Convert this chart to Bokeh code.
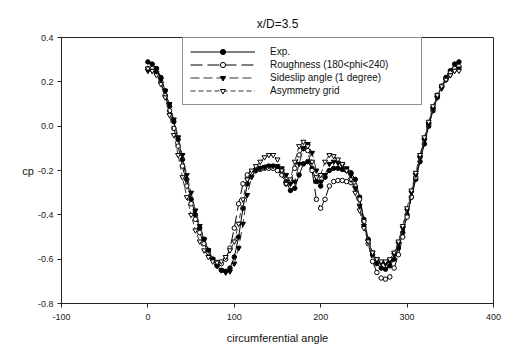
from bokeh.plotting import figure
from bokeh.models import Range1d, FixedTicker, PrintfTickFormatter, Legend, LegendItem
from bokeh.embed import file_html
from bokeh.resources import INLINE

angle = list(range(0, 361, 5))

exp_cp = [0.29, 0.28, 0.26, 0.22, 0.16, 0.09, 0.02, -0.06, -0.15, -0.24, -0.33, -0.40, -0.46,
          -0.51, -0.56, -0.60, -0.63, -0.65, -0.655, -0.64, -0.59, -0.50, -0.37, -0.26, -0.21,
          -0.195, -0.19, -0.185, -0.18, -0.18, -0.185, -0.20, -0.25, -0.29, -0.28, -0.22, -0.17,
          -0.16, -0.19, -0.25, -0.27, -0.23, -0.20, -0.19, -0.19, -0.195, -0.20, -0.21, -0.24,
          -0.32, -0.42, -0.51, -0.58, -0.62, -0.64, -0.645, -0.63, -0.60, -0.55, -0.48, -0.40,
          -0.32, -0.24, -0.16, -0.08, 0.00, 0.07, 0.13, 0.18, 0.22, 0.25, 0.28, 0.29]

rough_cp = [0.26, 0.26, 0.24, 0.20, 0.14, 0.07, -0.01, -0.09, -0.18, -0.27, -0.35, -0.42, -0.48,
            -0.53, -0.57, -0.60, -0.615, -0.62, -0.60, -0.55, -0.46, -0.35, -0.26, -0.22, -0.21,
            -0.20, -0.195, -0.19, -0.19, -0.19, -0.20, -0.22, -0.26, -0.25, -0.19, -0.13, -0.10,
            -0.11, -0.20, -0.33, -0.37, -0.33, -0.27, -0.25, -0.245, -0.245, -0.25, -0.255, -0.27,
            -0.33, -0.43, -0.53, -0.61, -0.66, -0.685, -0.69, -0.68, -0.64, -0.58, -0.50, -0.41,
            -0.32, -0.23, -0.14, -0.06, 0.01, 0.08, 0.14, 0.18, 0.21, 0.24, 0.26, 0.27]

side_cp = [0.25, 0.25, 0.24, 0.21, 0.16, 0.10, 0.03, -0.05, -0.13, -0.22, -0.30, -0.38, -0.45,
           -0.51, -0.56, -0.60, -0.63, -0.65, -0.66, -0.655, -0.62, -0.55, -0.44, -0.31, -0.23,
           -0.20, -0.19, -0.185, -0.18, -0.18, -0.18, -0.19, -0.22, -0.26, -0.25, -0.17, -0.10,
           -0.08, -0.12, -0.20, -0.25, -0.22, -0.17, -0.16, -0.165, -0.175, -0.19, -0.22, -0.28,
           -0.36, -0.45, -0.52, -0.57, -0.60, -0.615, -0.62, -0.61, -0.58, -0.53, -0.46, -0.38,
           -0.30, -0.22, -0.14, -0.06, 0.01, 0.08, 0.13, 0.17, 0.21, 0.23, 0.25, 0.26]

asym_cp = [0.26, 0.25, 0.23, 0.19, 0.13, 0.05, -0.04, -0.13, -0.23, -0.32, -0.40, -0.47, -0.52,
           -0.56, -0.59, -0.61, -0.615, -0.61, -0.59, -0.56, -0.52, -0.44, -0.33, -0.24, -0.20,
           -0.18, -0.16, -0.14, -0.13, -0.13, -0.15, -0.20, -0.26, -0.24, -0.16, -0.09, -0.07,
           -0.09, -0.16, -0.23, -0.22, -0.16, -0.13, -0.135, -0.15, -0.17, -0.20, -0.24, -0.30,
           -0.38, -0.46, -0.52, -0.57, -0.60, -0.61, -0.61, -0.60, -0.57, -0.52, -0.45, -0.37,
           -0.29, -0.21, -0.13, -0.05, 0.02, 0.09, 0.14, 0.18, 0.21, 0.23, 0.25, 0.25]

labels = ["Exp.", "Roughness (180<phi<240)", "Sideslip angle (1 degree)", "Asymmetry grid"]
x_ticks = [-100, 0, 100, 200, 300, 400]
y_ticks = [-0.8, -0.6, -0.4, -0.2, 0.0, 0.2, 0.4]

FONT = "Liberation Sans"

p = figure(width=507, height=354, output_backend="svg", toolbar_location=None,
           x_range=Range1d(-100, 400), y_range=Range1d(-0.8, 0.4),
           min_border_left=61, min_border_right=14, min_border_top=37, min_border_bottom=51)
p.background_fill_color = "white"
p.border_fill_color = "white"
p.outline_line_color = "#222222"
p.outline_line_width = 1
p.xgrid.visible = False
p.ygrid.visible = False

p.title.text = "x/D=3.5"
p.title.align = "center"
p.title.text_font = FONT
p.title.text_font_size = "12px"
p.title.text_font_style = "normal"
p.title.text_color = "#111111"
p.title.standoff = 13

for ax in (p.xaxis[0], p.yaxis[0]):
    ax.axis_line_color = "#222222"
    ax.major_tick_line_color = "#222222"
    ax.major_tick_out = 4
    ax.major_tick_in = 0
    ax.minor_tick_line_color = None
    ax.major_label_text_font = FONT
    ax.major_label_text_font_size = "9px"
    ax.major_label_text_color = "#222222"
    ax.axis_label_text_font = FONT
    ax.axis_label_text_font_size = "11px"
    ax.axis_label_text_font_style = "normal"
    ax.axis_label_text_color = "#111111"

p.xaxis.ticker = FixedTicker(ticks=x_ticks)
p.yaxis.ticker = FixedTicker(ticks=y_ticks)
p.xaxis.formatter = PrintfTickFormatter(format="%d")
p.yaxis.formatter = PrintfTickFormatter(format="%.1f")
p.xaxis.axis_label = "circumferential angle"
p.yaxis.axis_label = "cp"
p.yaxis.axis_label_orientation = "horizontal"
p.xaxis.major_label_standoff = 6
p.yaxis.major_label_standoff = 4
p.xaxis.axis_label_standoff = 9
p.yaxis.axis_label_standoff = 1

items = []

l1 = p.line(angle, exp_cp, line_color="black", line_width=1)
s1 = p.scatter(angle, exp_cp, marker="circle", size=4.5, fill_color="black", line_color="black")
items.append(LegendItem(label=labels[0], renderers=[l1, s1]))

l2 = p.line(angle, rough_cp, line_color="black", line_width=1, line_dash="12 5")
s2 = p.scatter(angle, rough_cp, marker="circle", size=4.5, fill_color="white", line_color="black")
items.append(LegendItem(label=labels[1], renderers=[l2, s2]))

l3 = p.line(angle, side_cp, line_color="#333333", line_width=1, line_dash="9 4")
s3 = p.scatter(angle, side_cp, marker="inverted_triangle", size=5, fill_color="black", line_color="black")
items.append(LegendItem(label=labels[2], renderers=[l3, s3]))

l4 = p.line(angle, asym_cp, line_color="#333333", line_width=1, line_dash="5 3")
s4 = p.scatter(angle, asym_cp, marker="inverted_triangle", size=5, fill_color="white", line_color="black")
items.append(LegendItem(label=labels[3], renderers=[l4, s4]))

legend = Legend(items=items, location=(121, 198))
legend.border_line_color = "#222222"
legend.border_line_width = 1
legend.background_fill_color = "white"
legend.background_fill_alpha = 1
legend.padding = 7
legend.margin = 0
legend.spacing = 0
legend.glyph_width = 65
legend.glyph_height = 13
legend.label_height = 13
legend.label_width = 144
legend.label_standoff = 15
legend.label_text_font = FONT
legend.label_text_font_size = "10px"
legend.label_text_color = "#111111"
p.add_layout(legend, "center")

open("out.html", "w").write(file_html(p, INLINE))
